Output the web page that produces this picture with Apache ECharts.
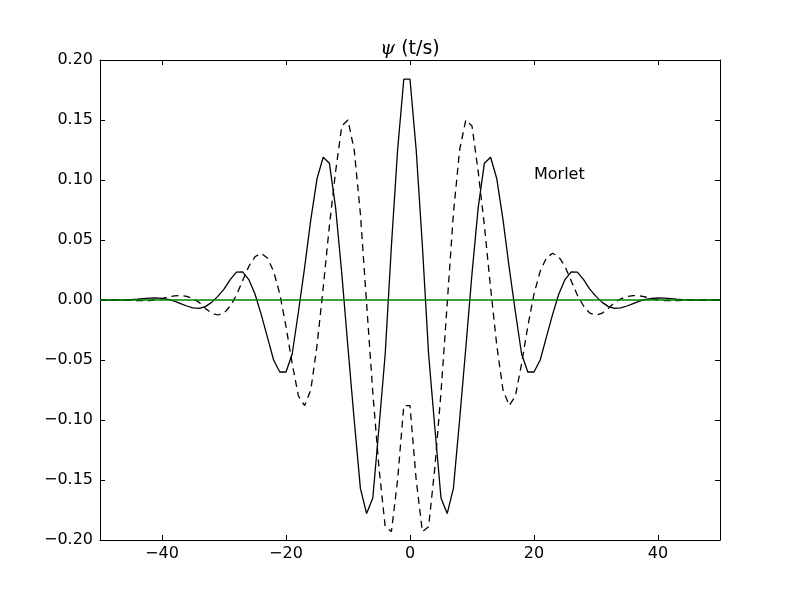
<!DOCTYPE html>
<html>
<head>
<meta charset="utf-8">
<script src="https://cdn.jsdelivr.net/npm/echarts@6/dist/echarts.min.js"></script>
<style>html,body{margin:0;padding:0;background:#fff;}#c{width:800px;height:600px;}</style>
</head>
<body>
<div id="c"></div>
<script>
// x positions (t/s)
var xValues = [-50,-49,-48,-47,-46,-45,-44,-43,-42,-41,-40,-39,-38,-37,-36,-35,-34,-33,-32,-31,
  -30,-29,-28,-27,-26,-25,-24,-23,-22,-21,-20,-19,-18,-17,-16,-15,-14,-13,-12,-11,
  -10,-9,-8,-7,-6,-5,-4,-3,-2,-1,0,1,2,3,4,5,6,7,8,9,
  10,11,12,13,14,15,16,17,18,19,20,21,22,23,24,25,26,27,28,29,
  30,31,32,33,34,35,36,37,38,39,40,41,42,43,44,45,46,47,48,49,50];
// solid curve
var solidValues = [0.0,-0.0001,-0.0002,-0.0001,0.0,0.0003,0.0007,0.0012,0.0016,0.0017,
  0.0013,0.0005,-0.001,-0.003,-0.005,-0.0065,-0.007,-0.0055,-0.002,0.003,
  0.009,0.017,0.0232,0.0235,0.017,0.005,-0.012,-0.031,-0.050,-0.060,
  -0.060,-0.045,-0.010,0.027,0.067,0.101,0.119,0.114,0.077,0.022,
  -0.040,-0.100,-0.157,-0.178,-0.165,-0.106,-0.045,0.045,0.125,0.184,
  0.184,0.125,0.045,-0.045,-0.106,-0.165,-0.178,-0.157,-0.100,-0.040,
  0.022,0.077,0.114,0.119,0.101,0.067,0.027,-0.010,-0.045,-0.060,
  -0.060,-0.050,-0.031,-0.012,0.005,0.017,0.0235,0.0232,0.017,0.009,
  0.003,-0.002,-0.0055,-0.007,-0.0065,-0.005,-0.003,-0.001,0.0005,0.0013,
  0.0017,0.0016,0.0012,0.0007,0.0003,0.0,-0.0001,-0.0002,-0.0001,0.0,0.0];
// dashed curve
var dashedValues = [0.0,0.0001,0.0001,0.0,-0.0001,-0.0003,-0.0005,-0.0006,-0.0004,0.0002,
  0.0012,0.0025,0.0035,0.0037,0.003,0.001,-0.002,-0.007,-0.011,-0.0125,
  -0.011,-0.005,0.004,0.016,0.028,0.036,0.039,0.035,0.024,0.005,
  -0.022,-0.053,-0.080,-0.088,-0.075,-0.038,0.010,0.062,0.107,0.145,
  0.150,0.125,0.072,-0.003,-0.077,-0.140,-0.189,-0.193,-0.150,-0.088,
  -0.088,-0.150,-0.193,-0.189,-0.140,-0.077,-0.003,0.072,0.125,0.150,
  0.145,0.107,0.062,0.010,-0.038,-0.075,-0.088,-0.080,-0.053,-0.022,
  0.005,0.024,0.035,0.039,0.036,0.028,0.016,0.004,-0.005,-0.011,
  -0.0125,-0.011,-0.007,-0.002,0.001,0.003,0.0037,0.0035,0.0025,0.0012,
  0.0002,-0.0004,-0.0006,-0.0005,-0.0003,-0.0001,0.0,0.0001,0.0001,0.0,0.0];
var zeroLineX = [-50, 50];
var zeroLineY = [0, 0];
var xTicks = [-40, -20, 0, 20, 40];
var yTicks = [-0.20, -0.15, -0.10, -0.05, 0.00, 0.05, 0.10, 0.15, 0.20];
var annotation = {x: 20, y: 0.10, text: 'Morlet'};

function pairs(xs, ys) { return xs.map(function (x, i) { return [x, ys[i]]; }); }
function minus(s) { return String(s).replace('-', '\u2212'); }

var chart = echarts.init(document.getElementById('c'), null, {renderer: 'canvas'});
var font = 'DejaVu Sans';
var tickCommon = {show: true, inside: true, length: 5, lineStyle: {color: '#000', width: 1}};
var lineCommon = {show: true, onZero: false, lineStyle: {color: '#000', width: 1}};

chart.setOption({
  animation: false,
  backgroundColor: '#fff',
  grid: {left: 100, right: 80, top: 60, bottom: 60, containLabel: false, outerBoundsMode: 'none'},
  graphic: [{
    type: 'text', x: 410, y: 49,
    style: {
      text: '{p|\u03C8} (t/s)',
      fontFamily: font, fontSize: 19, fill: '#000',
      align: 'center', verticalAlign: 'middle',
      rich: {p: {fontFamily: 'DejaVu Serif', fontStyle: 'italic', fontSize: 19, fill: '#000'}}
    }
  }],
  xAxis: [{
    type: 'value', min: -50, max: 50, position: 'bottom',
    axisLine: lineCommon,
    axisTick: Object.assign({customValues: xTicks}, tickCommon),
    axisLabel: {customValues: xTicks, margin: 6, color: '#000', fontFamily: font, fontSize: 16,
      formatter: function (v) { return minus(v); }},
    splitLine: {show: false}
  }, {
    type: 'value', min: -50, max: 50, position: 'top',
    axisLine: lineCommon,
    axisTick: Object.assign({customValues: xTicks}, tickCommon),
    axisLabel: {show: false},
    splitLine: {show: false}
  }],
  yAxis: [{
    type: 'value', min: -0.2, max: 0.2, position: 'left',
    axisLine: lineCommon,
    axisTick: Object.assign({customValues: yTicks}, tickCommon),
    axisLabel: {customValues: yTicks, margin: 7, color: '#000', fontFamily: font, fontSize: 16,
      formatter: function (v) { return minus(v.toFixed(2)); }},
    splitLine: {show: false}
  }, {
    type: 'value', min: -0.2, max: 0.2, position: 'right',
    axisLine: lineCommon,
    axisTick: Object.assign({customValues: yTicks}, tickCommon),
    axisLabel: {show: false},
    splitLine: {show: false}
  }],
  series: [{
    type: 'line', data: pairs(xValues, solidValues), symbol: 'none', xAxisIndex: 0, yAxisIndex: 0,
    lineStyle: {color: '#000', width: 1.3}, silent: true
  }, {
    type: 'line', data: pairs(xValues, dashedValues), symbol: 'none', xAxisIndex: 0, yAxisIndex: 0,
    lineStyle: {color: '#000', width: 1.3, type: [7, 5]}, silent: true
  }, {
    type: 'line', data: pairs(zeroLineX, zeroLineY), symbol: 'none', xAxisIndex: 0, yAxisIndex: 0,
    lineStyle: {color: '#008000', width: 1.3}, silent: true
  }, {
    type: 'scatter', data: [[annotation.x, annotation.y]], symbolSize: 0, silent: true,
    itemStyle: {opacity: 1, color: '#000'},
    label: {show: true, formatter: annotation.text, position: [0, 0], align: 'left', verticalAlign: 'bottom',
      offset: [0, 3], color: '#000', opacity: 1, fontFamily: font, fontSize: 16}
  }]
});
</script>
</body>
</html>
